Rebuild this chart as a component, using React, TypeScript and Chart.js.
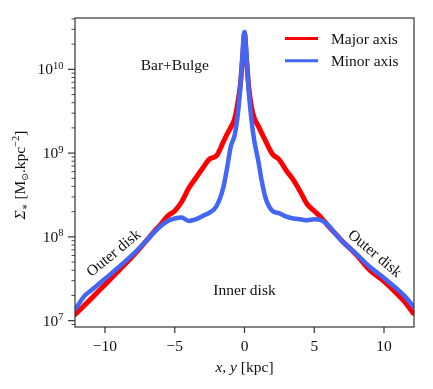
import React, { useEffect, useRef } from 'react';
import { Chart, registerables } from 'chart.js';

Chart.register(...registerables);

// ---- data ----
const xValues = [
  -12.1, -11.5, -11, -10, -9, -8, -7, -6.5, -6, -5.5, -5, -4.5, -4, -3.5, -3, -2.5, -2, -1.5, -1.2, -1,
  -0.7, -0.5, -0.3, -0.15, 0, 0.15, 0.3, 0.5, 0.7, 1, 1.2, 1.5, 2, 2.5, 3, 3.5, 4, 4.5, 5, 5.5, 6, 6.5,
  7, 8, 9, 10, 11, 11.5, 12.1,
];
const majorAxis = [
  1.2e7, 1.51e7, 1.82e7, 2.69e7, 3.98e7, 5.89e7, 9.12e7, 1.15e8, 1.41e8, 1.78e8, 2.04e8, 2.63e8, 3.8e8,
  5.01e8, 6.61e8, 8.51e8, 9.33e8, 1.38e9, 1.74e9, 2.0e9, 2.6e9, 3.8e9, 6.5e9, 1.3e10, 2.7e10, 1.3e10,
  6.3e9, 3.55e9, 2.63e9, 2.09e9, 1.78e9, 1.41e9, 9.77e8, 8.32e8, 6.17e8, 4.79e8, 3.47e8, 2.45e8, 2.04e8,
  1.7e8, 1.35e8, 1.1e8, 8.91e7, 6.17e7, 3.98e7, 2.95e7, 2.04e7, 1.66e7, 1.23e7,
];
const minorAxis = [
  1.38e7, 1.95e7, 2.29e7, 3.16e7, 4.37e7, 6.17e7, 9.12e7, 1.12e8, 1.35e8, 1.55e8, 1.66e8, 1.7e8, 1.55e8,
  1.62e8, 1.78e8, 1.95e8, 2.34e8, 4.0e8, 7.4e8, 1.17e9, 1.66e9, 2.69e9, 6.0e9, 1.41e10, 2.8e10, 1.41e10,
  5.6e9, 2.51e9, 1.41e9, 7.9e8, 5.0e8, 2.95e8, 2.04e8, 1.91e8, 1.74e8, 1.66e8, 1.62e8, 1.58e8, 1.62e8,
  1.58e8, 1.38e8, 1.1e8, 8.91e7, 6.31e7, 4.37e7, 3.24e7, 2.34e7, 1.95e7, 1.48e7,
];
const xTickValues = [-10, -5, 0, 5, 10];
const xTickLabels = ['\u221210', '\u22125', '0', '5', '10'];
const yTickValues = [1e7, 1e8, 1e9, 1e10];
const yTickExponents = ['7', '8', '9', '10'];
const seriesNames = ['Major axis', 'Minor axis'];
const seriesColors = ['#ff0000', '#4266f5'];
const annotations = [
  { text: 'Bar+Bulge', x: -5.0, y: 1.12e10, angle: 0 },
  { text: 'Inner disk', x: 0.0, y: 2.3e7, angle: 0 },
  { text: 'Outer disk', x: -9.4, y: 6.5e7, angle: -39.5 },
  { text: 'Outer disk', x: 9.36, y: 6.4e7, angle: 40 },
];

const SERIF = "'Liberation Serif', 'DejaVu Serif', serif";
const FS = 15.5;

function drawPieces(ctx: CanvasRenderingContext2D, pieces: any[], startX: number, baseY: number) {
  let x = startX;
  for (const p of pieces) {
    ctx.font = p.font;
    ctx.fillText(p.t, x, baseY + (p.dy || 0));
    x += ctx.measureText(p.t).width;
  }
  return x;
}
function piecesWidth(ctx: CanvasRenderingContext2D, pieces: any[]) {
  let w = 0;
  for (const p of pieces) {
    ctx.font = p.font;
    w += ctx.measureText(p.t).width;
  }
  return w;
}

const decorPlugin = {
  id: 'decor',
  afterDraw(chart: any) {
    const ctx: CanvasRenderingContext2D = chart.ctx;
    const { left, right, top, bottom } = chart.chartArea;
    const xs = chart.scales.x;
    const ys = chart.scales.y;
    const font = `${FS}px ${SERIF}`;
    const small = `10.5px ${SERIF}`;
    ctx.save();
    ctx.fillStyle = '#111';
    ctx.strokeStyle = '#333';
    // frame
    ctx.lineWidth = 1.2;
    ctx.strokeRect(left, top, right - left, bottom - top);
    // x ticks + labels
    ctx.textAlign = 'center';
    ctx.textBaseline = 'alphabetic';
    xTickValues.forEach((v, i) => {
      const px = xs.getPixelForValue(v);
      ctx.beginPath();
      ctx.moveTo(px, bottom);
      ctx.lineTo(px, bottom + 6);
      ctx.stroke();
      ctx.font = font;
      ctx.fillText(xTickLabels[i], px, bottom + 23.5);
    });
    // y ticks: minor
    ctx.lineWidth = 0.9;
    for (let d = 6; d <= 10; d++) {
      for (let k = 2; k <= 9; k++) {
        const v = k * Math.pow(10, d);
        if (v < ys.min || v > ys.max) continue;
        const py = ys.getPixelForValue(v);
        ctx.beginPath();
        ctx.moveTo(left, py);
        ctx.lineTo(left - 3.5, py);
        ctx.stroke();
      }
    }
    // y major ticks and labels
    ctx.lineWidth = 1.2;
    ctx.textAlign = 'left';
    yTickValues.forEach((v, i) => {
      const py = ys.getPixelForValue(v);
      ctx.beginPath();
      ctx.moveTo(left, py);
      ctx.lineTo(left - 7, py);
      ctx.stroke();
      const pieces = [
        { t: '10', font },
        { t: yTickExponents[i], font: small, dy: -5.6 },
      ];
      const w = piecesWidth(ctx, pieces);
      drawPieces(ctx, pieces, left - 11.5 - w, py + 5.1);
    });
    // x title
    const xt = [
      { t: 'x', font: `italic ${FS}px ${SERIF}` },
      { t: ', ', font },
      { t: 'y', font: `italic ${FS}px ${SERIF}` },
      { t: ' [kpc]', font },
    ];
    const xw = piecesWidth(ctx, xt);
    drawPieces(ctx, xt, (left + right) / 2 - xw / 2, 372);
    // y title
    const yt = [
      { t: '\u03A3', font: `italic ${FS}px ${SERIF}` },
      { t: '\u2217', font: `10px ${SERIF}`, dy: 3 },
      { t: ' [M', font },
      { t: '\u2299', font: `9px ${'DejaVu Sans'}`, dy: 3 },
      { t: '.kpc', font },
      { t: '\u22122', font: small, dy: -6.5 },
      { t: ']', font },
    ];
    const yw = piecesWidth(ctx, yt);
    ctx.save();
    ctx.translate(25, 175);
    ctx.rotate(-Math.PI / 2);
    drawPieces(ctx, yt, -yw / 2, 0);
    ctx.restore();
    // legend
    seriesNames.forEach((name, i) => {
      const ly = 38.5 + i * 22.3;
      ctx.strokeStyle = seriesColors[i];
      ctx.lineWidth = 3;
      ctx.beginPath();
      ctx.moveTo(285, ly);
      ctx.lineTo(318, ly);
      ctx.stroke();
      ctx.font = font;
      ctx.textAlign = 'left';
      ctx.fillText(name, 331, ly + 5.6);
    });
    // annotations
    ctx.textAlign = 'center';
    ctx.font = font;
    annotations.forEach((a) => {
      const px = xs.getPixelForValue(a.x);
      const py = ys.getPixelForValue(a.y);
      ctx.save();
      ctx.translate(px, py);
      ctx.rotate((a.angle * Math.PI) / 180);
      ctx.fillText(a.text, 0, 5.1);
      ctx.restore();
    });
    ctx.restore();
  },
};

export default function App() {
  const ref = useRef<HTMLCanvasElement>(null);
  useEffect(() => {
    document.body.style.margin = '0';
    const canvas = ref.current!;
    const mk = (vals: number[]) => xValues.map((x, i) => ({ x, y: vals[i] }));
    const chart = new Chart(canvas, {
      type: 'line',
      data: {
        datasets: [
          {
            label: seriesNames[0],
            data: mk(majorAxis),
            borderColor: seriesColors[0],
            borderWidth: 5,
            pointRadius: 0,
            cubicInterpolationMode: 'monotone',
            borderJoinStyle: 'round',
            borderCapStyle: 'round',
            clip: 0,
            order: 2,
          } as any,
          {
            label: seriesNames[1],
            data: mk(minorAxis),
            borderColor: seriesColors[1],
            borderWidth: 4.5,
            pointRadius: 0,
            cubicInterpolationMode: 'monotone',
            borderJoinStyle: 'round',
            borderCapStyle: 'round',
            clip: 0,
            order: 1,
          } as any,
        ],
      },
      options: {
        responsive: false,
        animation: false,
        layout: { padding: { left: 75, right: 19, top: 18, bottom: 62 } },
        plugins: { legend: { display: false }, tooltip: { enabled: false } },
        scales: {
          x: { type: 'linear', min: -12.15, max: 12.15, display: false },
          y: { type: 'logarithmic', min: 8.4e6, max: 4.1e10, display: false },
        },
      },
      plugins: [decorPlugin],
    });
    return () => chart.destroy();
  }, []);
  return (
    <div style={{ width: 433, height: 389, background: '#fff' }}>
      <canvas ref={ref} width={433} height={389} style={{ display: 'block' }} />
    </div>
  );
}
